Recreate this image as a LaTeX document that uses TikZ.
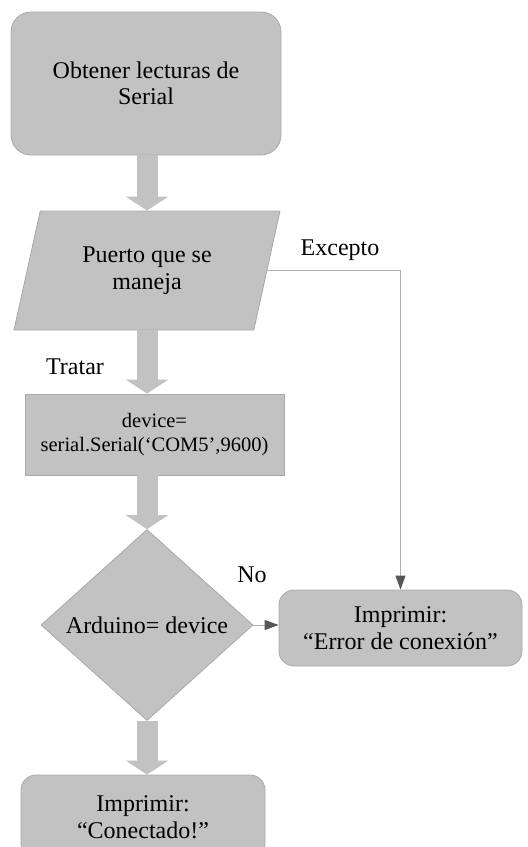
\documentclass[tikz,border=0pt]{standalone}
\usepackage{fontspec}
\setmainfont{Liberation Serif}
\usepackage{tikz}
\definecolor{boxgray}{HTML}{C2C2C2}
\definecolor{edgegray}{HTML}{A9A9A9}
\definecolor{linegray}{HTML}{B0B0B0}
\definecolor{tipgray}{HTML}{575757}
\usetikzlibrary{arrows.meta}
\usetikzlibrary{shapes.geometric}
\usetikzlibrary{positioning}
\tikzstyle{box}=[fill=boxgray, draw=edgegray, line width=0.8pt, align=center, inner sep=0pt, font={\fontsize{24}{26.5}\selectfont}]
\tikzstyle{flow}=[-{Triangle[width=42pt, length=14pt]}, draw=boxgray, line width=21pt]
\tikzstyle{link}=[-{Triangle[width=10pt, length=14pt, color=tipgray]}, draw=linegray, line width=1pt]
\tikzstyle{lbl}=[font={\fontsize{24}{26.5}\selectfont}, inner sep=0pt]

\begin{document}
\begin{tikzpicture}[x=1pt, y=-1pt]

    \clip (0, 0) rectangle (528, 847);

    \node[box, rounded corners=20pt, minimum width=270pt, minimum height=143pt] (start) at (146, 83.5) {Obtener lecturas de\\Serial};
    \node[box, trapezium, trapezium left angle=61, trapezium right angle=119, trapezium stretches body, minimum width=266pt, minimum height=119pt] (port) at (147, 270.5) {Puerto que se\\maneja};
    \node[box, minimum width=259pt, minimum height=81pt, font={\fontsize{20.5}{24}\selectfont}] (dev) at (154.5, 434.5) {device=\\serial.Serial(‘COM5’,9600)};
    \node[box, diamond, aspect=1.1, minimum width=212pt, minimum height=191pt] (check) at (147, 625) {Arduino= device};
    \node[box, rounded corners=15pt, minimum width=243pt, minimum height=76pt] (error) at (400.5, 628) {Imprimir:\\“Error de conexión”};
    \node[box, rounded corners=15pt, minimum width=244pt, minimum height=84pt] (done) at (143, 817) {Imprimir:\\“Conectado!”};

    \node[lbl] (exc) at (340, 250) {Excepto};
    \node[lbl] (try) at (75, 367) {Tratar};
    \node[lbl] (no) at (252, 575) {No};

    \draw[flow] (start.south -| port.north) -- (port.north);
    \draw[flow] (port.south) -- (dev.north -| port.south);
    \draw[flow] (dev.south -| check.north) -- (check.north);
    \draw[flow] (check.south) -- (done.north -| check.south);

    \draw[link] (port.east) -| (error.north);
    \draw[link] (check.east) -- (check.east -| error.west);

\end{tikzpicture}
\end{document}
